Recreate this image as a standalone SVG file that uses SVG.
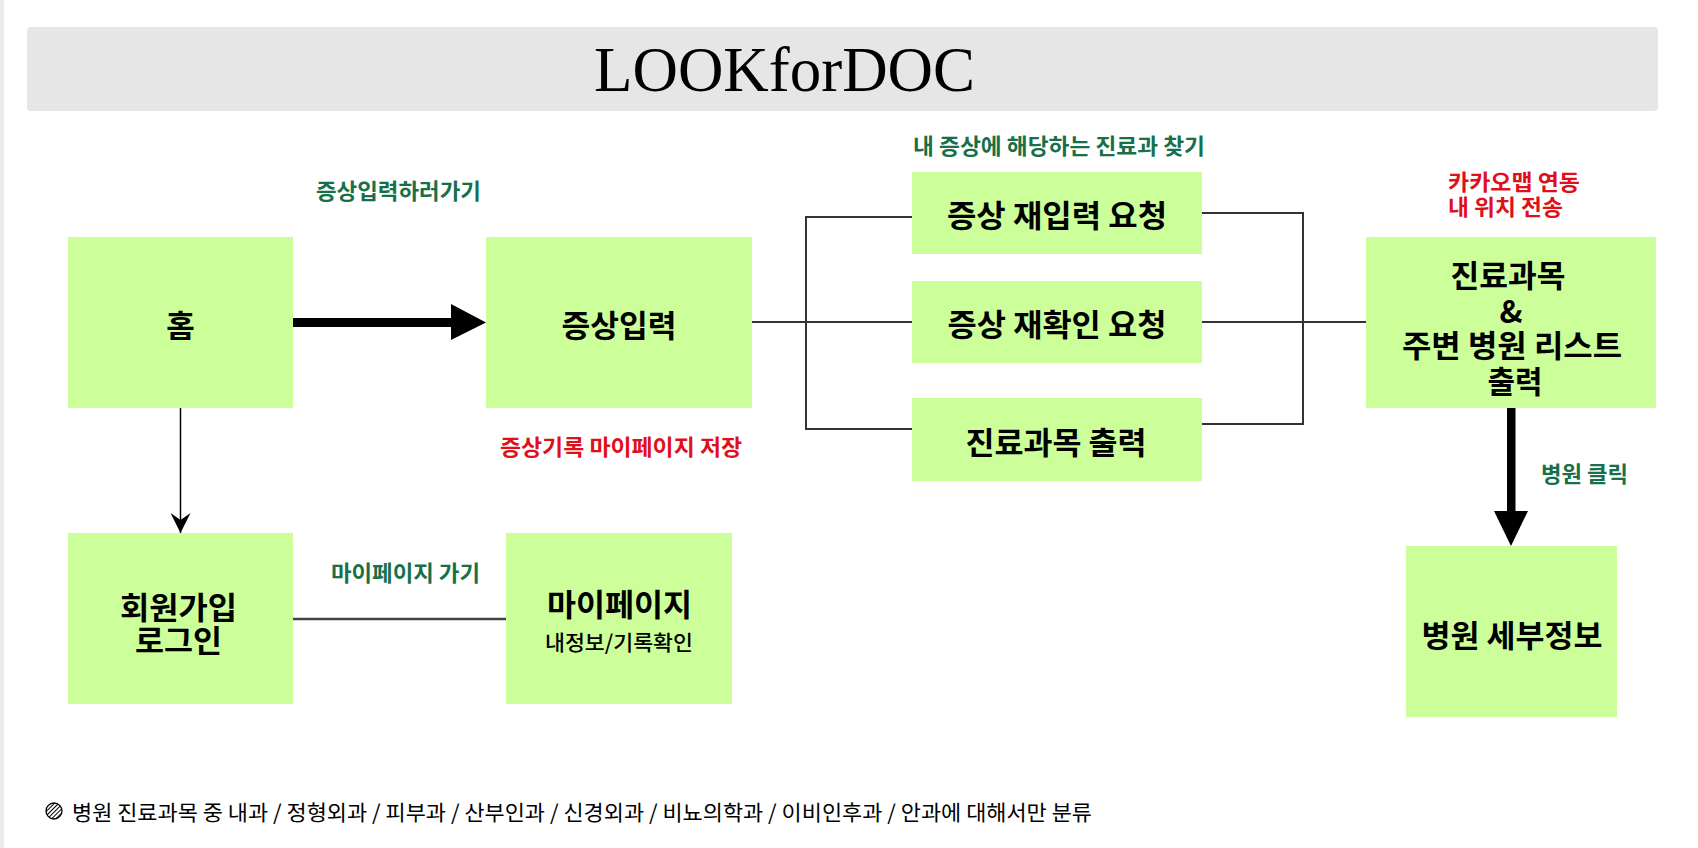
<svg xmlns="http://www.w3.org/2000/svg" width="1698" height="848" viewBox="0 0 1698 848">
  <defs>
    <style>
      .node { fill: #ccff99; }
      .lbl { font-family: "Noto Sans CJK KR", "Noto Sans", sans-serif; font-weight: bold; fill: #000; text-anchor: middle; dominant-baseline: central; font-size: 31px; }
      .sub { font-family: "Noto Sans CJK KR", "Noto Sans", sans-serif; font-weight: 500; fill: #000; text-anchor: middle; dominant-baseline: central; font-size: 21px; }
      .green { font-family: "Noto Sans CJK KR", "Noto Sans", sans-serif; font-weight: bold; fill: #17704a; font-size: 22px; dominant-baseline: central; }
      .red { font-family: "Noto Sans CJK KR", "Noto Sans", sans-serif; font-weight: bold; fill: #e0101a; font-size: 22px; dominant-baseline: central; }
      .conn { fill: none; stroke: #333; stroke-width: 2; }
    </style>
    <marker id="thin" viewBox="0 0 20 20" refX="20" refY="10" markerUnits="userSpaceOnUse" markerWidth="20" markerHeight="20" orient="auto">
      <path d="M0,0 L20,10 L0,20 L7,10 Z" fill="#000"/>
    </marker>
    <pattern id="hatch" width="3" height="3" patternUnits="userSpaceOnUse" patternTransform="rotate(45)">
      <rect width="3" height="3" fill="#fff"/>
      <line x1="0" y1="0" x2="0" y2="3" stroke="#000" stroke-width="2"/>
    </pattern>
  </defs>

  <rect x="0" y="0" width="1698" height="848" fill="#fff"/>
  <rect x="0" y="0" width="4" height="848" fill="#ebebeb"/>

  <g id="header">
    <rect x="27" y="27" width="1631" height="84" rx="4" fill="#e6e6e6"/>
    <text x="594" y="91" font-family="Liberation Serif, serif" font-size="63" fill="#000" textLength="381" lengthAdjust="spacingAndGlyphs">LOOKforDOC</text>
  </g>

  <g id="connectors">
    <rect x="293" y="318" width="160" height="9" fill="#000"/>
    <path d="M451,304 L486,322.5 L451,340 Z" fill="#000"/>
    <line x1="180.5" y1="408" x2="180.5" y2="533" stroke="#000" stroke-width="1.5" marker-end="url(#thin)"/>
    <line x1="293" y1="619" x2="506" y2="619" stroke="#444" stroke-width="2.5"/>
    <line class="conn" x1="752" y1="322" x2="912" y2="322"/>
    <path class="conn" d="M912,217 H806 V429 H912"/>
    <path class="conn" d="M1202,213 H1303 V424 H1202"/>
    <line class="conn" x1="1202" y1="322" x2="1366" y2="322"/>
    <rect x="1507" y="408" width="8.5" height="105" fill="#000"/>
    <path d="M1494,511 L1511,546 L1528,511 Z" fill="#000"/>
  </g>

  <g id="edge-labels">
    <text class="green" x="316" y="189" textLength="165" lengthAdjust="spacingAndGlyphs">증상입력하러가기</text>
    <text class="red" x="500" y="445" textLength="242" lengthAdjust="spacingAndGlyphs">증상기록 마이페이지 저장</text>
    <text class="green" x="913" y="144" textLength="292" lengthAdjust="spacingAndGlyphs">내 증상에 해당하는 진료과 찾기</text>
    <text class="red" x="1448" y="180" textLength="132" lengthAdjust="spacingAndGlyphs">카카오맵 연동</text>
    <text class="red" x="1448" y="205" textLength="115" lengthAdjust="spacingAndGlyphs">내 위치 전송</text>
    <text class="green" x="1541" y="472" textLength="87" lengthAdjust="spacingAndGlyphs">병원 클릭</text>
    <text class="green" x="331" y="571" textLength="149" lengthAdjust="spacingAndGlyphs">마이페이지 가기</text>
  </g>

  <g id="node-home">
    <rect class="node" x="68" y="237" width="225" height="171"/>
    <text class="lbl" x="180.5" y="323">홈</text>
  </g>

  <g id="node-symptom-input">
    <rect class="node" x="486" y="237" width="266" height="171"/>
    <text class="lbl" x="619" y="323" textLength="115" lengthAdjust="spacingAndGlyphs">증상입력</text>
  </g>

  <g id="node-reinput">
    <rect class="node" x="912" y="172" width="290" height="82"/>
    <text class="lbl" x="1057" y="213" textLength="220" lengthAdjust="spacingAndGlyphs">증상 재입력 요청</text>
  </g>

  <g id="node-recheck">
    <rect class="node" x="912" y="281" width="290" height="82"/>
    <text class="lbl" x="1057" y="322" textLength="219" lengthAdjust="spacingAndGlyphs">증상 재확인 요청</text>
  </g>

  <g id="node-dept-output">
    <rect class="node" x="912" y="398" width="290" height="83"/>
    <text class="lbl" x="1056" y="440" textLength="181" lengthAdjust="spacingAndGlyphs">진료과목 출력</text>
  </g>

  <g id="node-result">
    <rect class="node" x="1366" y="237" width="290" height="171"/>
    <text class="lbl" x="1508" y="273" textLength="115" lengthAdjust="spacingAndGlyphs">진료과목</text>
    <text class="lbl" x="1511" y="309">&amp;</text>
    <text class="lbl" x="1512" y="343" textLength="220" lengthAdjust="spacingAndGlyphs">주변 병원 리스트</text>
    <text class="lbl" x="1515" y="379" textLength="55" lengthAdjust="spacingAndGlyphs">출력</text>
  </g>

  <g id="node-hospital-detail">
    <rect class="node" x="1406" y="546" width="211" height="171"/>
    <text class="lbl" x="1512" y="633" textLength="181" lengthAdjust="spacingAndGlyphs">병원 세부정보</text>
  </g>

  <g id="node-signup">
    <rect class="node" x="68" y="533" width="225" height="171"/>
    <text class="lbl" x="178.5" y="605" textLength="117" lengthAdjust="spacingAndGlyphs">회원가입</text>
    <text class="lbl" x="178.5" y="638" textLength="87" lengthAdjust="spacingAndGlyphs">로그인</text>
  </g>

  <g id="node-mypage">
    <rect class="node" x="506" y="533" width="226" height="171"/>
    <text class="lbl" x="619.5" y="602" textLength="145" lengthAdjust="spacingAndGlyphs">마이페이지</text>
    <text class="sub" x="619" y="641" textLength="148" lengthAdjust="spacingAndGlyphs">내정보/기록확인</text>
  </g>

  <g id="footnote">
    <circle cx="54" cy="811" r="8" fill="url(#hatch)" stroke="#000" stroke-width="1.3"/>
    <text x="72" y="811" font-family="Noto Sans CJK KR, Noto Sans, sans-serif" font-size="21" fill="#000" dominant-baseline="central" textLength="1020" lengthAdjust="spacingAndGlyphs">병원 진료과목 중 내과 / 정형외과 / 피부과 / 산부인과 / 신경외과 / 비뇨의학과 / 이비인후과 / 안과에 대해서만 분류</text>
  </g>
</svg>
